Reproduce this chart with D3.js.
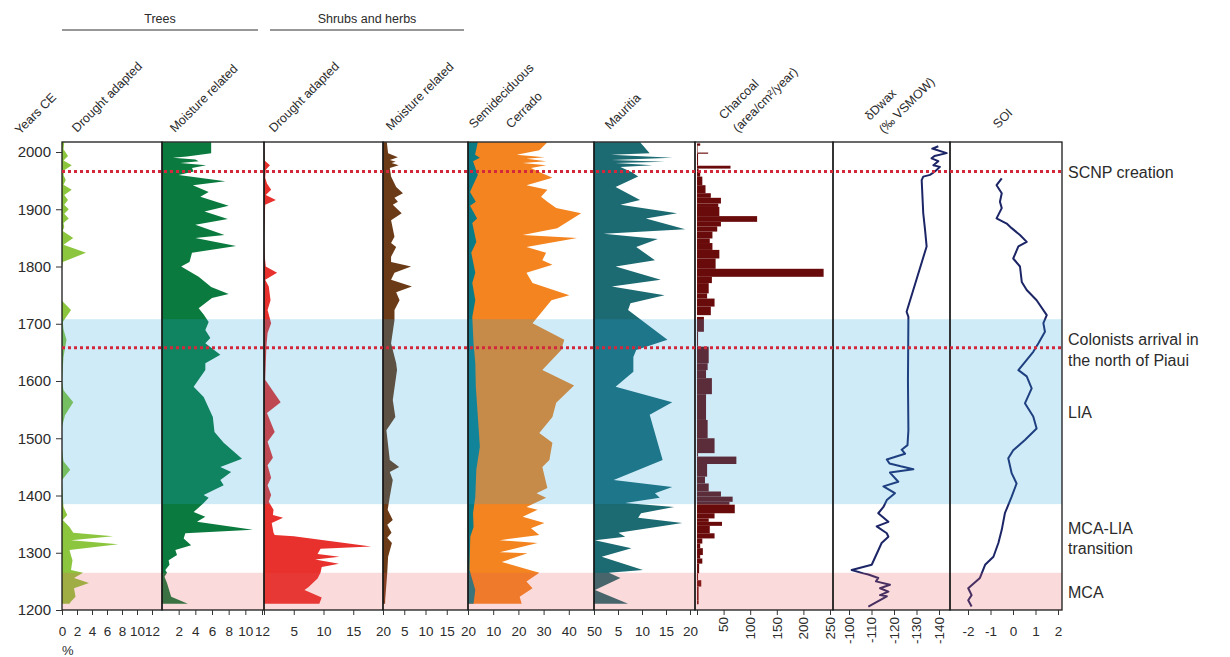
<!DOCTYPE html>
<html>
<head>
<meta charset="utf-8">
<script src="https://cdn.jsdelivr.net/npm/d3@7"></script>
<style>
  body { margin: 0; background: #fff; }
  text { font-family: "Liberation Sans", Arial, sans-serif; fill: #2b2b2b; }
</style>
</head>
<body>
<div id="chart"></div>
<script>
// ---- data, years CE ----
// trees, drought adapted (%)
const dtYears = [2017, 2005, 1993, 1985, 1977, 1968, 1960, 1951, 1943, 1934, 1925, 1916, 1908, 1900, 1892, 1884, 1876, 1869, 1862, 1850, 1838, 1824, 1808, 1795, 1740, 1724, 1703, 1690, 1672, 1642, 1600, 1584, 1563, 1540, 1520, 1480, 1460, 1445, 1427, 1400, 1380, 1366, 1357, 1345, 1335, 1329, 1322, 1315, 1305, 1295, 1287, 1270, 1265, 1256, 1247, 1238, 1223, 1215, 1211];
const dtVals = [0.3, 0.2, 0.8, 0.2, 1.3, 0.3, 0.2, 0.5, 0.2, 1.3, 0.3, 0.8, 0.3, 0.9, 0.3, 0.9, 0.2, 0.3, 0.1, 1.5, 0.2, 3.2, 0.1, 0, 0, 1.2, 0.1, 0.2, 0.6, 0.2, 0, 0.2, 1.5, 0.4, 0, 0, 0.2, 1.1, 0, 0.1, 0.2, 0.7, 0.1, 1.0, 1.5, 6.8, 1.2, 7.5, 1.0, 1.2, 1.4, 1.2, 2.8, 1.6, 3.6, 1.6, 1.8, 1.2, 1.0];

// trees, moisture related (%)
const mtYears = [2017, 1998, 1992, 1990, 1987, 1984, 1981, 1977, 1972, 1966, 1960, 1949, 1942, 1930, 1922, 1906, 1896, 1883, 1873, 1855, 1850, 1836, 1824, 1808, 1800, 1782, 1764, 1752, 1745, 1727, 1716, 1703, 1689, 1675, 1666, 1646, 1631, 1619, 1590, 1572, 1537, 1511, 1492, 1464, 1450, 1441, 1427, 1418, 1401, 1396, 1387, 1371, 1363, 1354, 1340, 1334, 1325, 1313, 1305, 1296, 1287, 1279, 1270, 1265, 1258, 1247, 1223, 1211];
const mtVals = [5.9, 5.9, 3.0, 1.3, 4.0, 4.4, 2.2, 5.3, 3.6, 3.8, 2.0, 7.6, 3.7, 5.6, 4.6, 8.0, 5.1, 7.9, 4.0, 7.5, 4.0, 8.9, 3.6, 3.3, 2.3, 4.4, 5.9, 8.0, 6.0, 4.4, 5.0, 5.6, 5.2, 5.8, 5.2, 7.0, 5.2, 5.2, 3.8, 5.0, 6.1, 6.3, 7.4, 9.6, 7.0, 8.3, 7.0, 7.4, 5.0, 5.6, 5.0, 3.8, 5.2, 4.2, 10.9, 2.8, 2.6, 3.5, 1.6, 1.8, 0.8, 0.9, 0.4, 0.6, 0.3, 0.6, 1.1, 3.1];

// shrubs and herbs, drought adapted (%)
const dsYears = [2017, 1985, 1977, 1969, 1955, 1945, 1934, 1925, 1916, 1908, 1876, 1850, 1820, 1800, 1789, 1777, 1765, 1741, 1724, 1701, 1684, 1660, 1630, 1602, 1563, 1544, 1511, 1494, 1466, 1453, 1431, 1418, 1401, 1389, 1375, 1366, 1361, 1352, 1335, 1331, 1329, 1311, 1307, 1298, 1293, 1288, 1281, 1275, 1265, 1255, 1240, 1235, 1222, 1211];
const dsVals = [0, 0.1, 1.0, 0.3, 0.2, 0.5, 1.2, 0.3, 2.0, 0.2, 0.1, 0, 0.1, 0.3, 2.2, 0.2, 0.8, 1.1, 0.6, 1.2, 0.6, 0.4, 0.3, 0.2, 2.8, 0.5, 1.8, 0.6, 1.5, 0.6, 1.2, 0.6, 1.2, 0.8, 1.6, 1.5, 3.2, 1.3, 1.6, 1.8, 5.0, 18.0, 9.5, 9.0, 12.7, 8.6, 12.6, 9.7, 9.5, 9.0, 7.5, 6.8, 9.7, 9.3];

// shrubs and herbs, moisture related (%)
const msYears = [2017, 1998, 1991, 1986, 1983, 1981, 1977, 1972, 1957, 1939, 1928, 1920, 1913, 1908, 1893, 1881, 1852, 1841, 1834, 1817, 1808, 1800, 1789, 1777, 1765, 1755, 1741, 1724, 1706, 1666, 1631, 1619, 1567, 1537, 1514, 1462, 1450, 1441, 1427, 1398, 1375, 1357, 1349, 1335, 1326, 1317, 1293, 1265, 1217, 1211];
const msVals = [0.9, 1.2, 3.5, 1.6, 3.0, 2.0, 3.7, 1.6, 1.9, 3.1, 4.7, 2.7, 3.5, 2.3, 4.4, 1.9, 2.7, 1.9, 3.1, 1.9, 1.9, 6.6, 2.7, 1.9, 6.8, 3.1, 3.9, 2.7, 2.7, 1.9, 3.1, 3.3, 2.3, 2.9, 0.8, 1.6, 3.8, 1.6, 2.3, 1.6, 1.1, 2.3, 1.0, 2.0, 1.0, 2.1, 1.2, 1.0, 0.5, 0.5];

// semideciduous (%)
const sdYears = [2017, 1995, 1990, 1984, 1960, 1942, 1930, 1913, 1906, 1884, 1876, 1843, 1824, 1789, 1771, 1741, 1712, 1666, 1631, 1590, 1532, 1485, 1445, 1398, 1369, 1345, 1328, 1270, 1235, 1211];
const sdVals = [3.9, 2.8, 4.7, 2.0, 3.9, 2.0, 0.8, 3.1, 0.8, 3.6, 1.7, 3.3, 1.3, 2.9, 1.7, 2.9, 1.7, 2.2, 2.9, 3.1, 4.0, 4.7, 3.3, 2.9, 2.0, 2.2, 0.9, 0.6, 2.9, 2.2];

// cerrado, stacked on semideciduous (cumulative %)
const ceYears = [2017, 2003, 1995, 1991, 1988, 1984, 1981, 1977, 1972, 1965, 1955, 1942, 1934, 1922, 1913, 1902, 1893, 1867, 1855, 1850, 1834, 1824, 1811, 1803, 1789, 1771, 1750, 1741, 1701, 1672, 1654, 1619, 1592, 1562, 1537, 1509, 1492, 1462, 1450, 1413, 1404, 1396, 1380, 1375, 1363, 1352, 1343, 1331, 1322, 1317, 1301, 1299, 1284, 1265, 1250, 1238, 1223, 1211];
const ceVals = [31.5, 28.3, 19.3, 30.3, 23.2, 31.0, 21.7, 31.0, 25.0, 28.3, 33.5, 23.2, 31.5, 29.0, 31.5, 35.0, 44.9, 35.4, 21.7, 43.3, 23.2, 31.0, 29.5, 33.5, 23.2, 25.6, 40.2, 33.1, 25.6, 38.2, 37.0, 29.5, 42.1, 35.0, 33.5, 28.3, 33.5, 32.3, 29.5, 31.5, 27.2, 31.0, 23.2, 27.6, 21.7, 30.3, 25.0, 28.3, 12.6, 27.6, 12.6, 23.6, 13.4, 28.3, 23.2, 25.6, 20.5, 21.3];

// Mauritia (%)
const mauYears = [2017, 1998, 1995, 1990, 1986, 1983, 1981, 1977, 1974, 1965, 1957, 1939, 1916, 1908, 1893, 1884, 1865, 1857, 1848, 1834, 1811, 1800, 1777, 1765, 1750, 1736, 1724, 1672, 1654, 1642, 1616, 1590, 1563, 1541, 1462, 1427, 1415, 1404, 1396, 1387, 1380, 1369, 1361, 1352, 1335, 1328, 1322, 1308, 1293, 1270, 1265, 1256, 1235, 1211];
const mauVals = [9.6, 11.6, 3.5, 16.3, 3.7, 14.7, 4.5, 12.2, 5.5, 7.8, 9.2, 4.5, 9.6, 5.5, 17.3, 10.8, 19.0, 2.0, 13.3, 8.8, 12.7, 4.5, 13.9, 3.7, 14.7, 7.6, 7.1, 15.3, 8.8, 8.2, 8.2, 4.5, 16.3, 11.6, 14.3, 4.1, 16.3, 12.7, 13.7, 6.5, 16.7, 9.8, 9.2, 18.4, 5.1, 6.5, 0.2, 7.8, 1.6, 10.2, 3.1, 5.5, 0.2, 7.1];

// charcoal bins: edges (years) and accumulation per bin (area/cm2/year)
const chEdges = [2015, 2011, 1999, 1997, 1976, 1971, 1966, 1957, 1942, 1928, 1920, 1910, 1904, 1888, 1878, 1870, 1861, 1849, 1841, 1829, 1814, 1796, 1782, 1771, 1753, 1744, 1730, 1715, 1712, 1686, 1660, 1631, 1619, 1605, 1577, 1532, 1500, 1474, 1468, 1455, 1433, 1421, 1407, 1398, 1389, 1384, 1369, 1360, 1354, 1347, 1334, 1325, 1316, 1308, 1296, 1290, 1281, 1264, 1252, 1241, 1217, 1210];
const chVals = [6, 1, 21, 2, 63, 3, 6, 10, 16, 26, 45, 40, 42, 113, 45, 38, 29, 24, 29, 42, 35, 238, 28, 22, 19, 33, 26, 0, 13, 2, 22, 20, 17, 28, 17, 20, 33, 2, 74, 19, 15, 22, 45, 67, 61, 71, 33, 22, 47, 24, 33, 10, 6, 11, 6, 10, 4, 2, 8, 3, 3];

// dD wax (permil VSMOW)
const ddYears = [2010, 2006, 1998, 1993, 1989, 1984, 1977, 1974, 1966, 1960, 1957, 1951, 1893, 1864, 1835, 1721, 1712, 1600, 1514, 1488, 1480, 1473, 1463, 1456, 1451, 1446, 1440, 1424, 1416, 1404, 1392, 1380, 1369, 1354, 1346, 1334, 1328, 1317, 1279, 1270, 1264, 1262, 1256, 1250, 1244, 1238, 1232, 1226, 1224, 1206];
const ddVals = [-139.7, -137, -143.4, -138, -136.7, -139.7, -137.5, -140.4, -138.2, -136, -133, -132.3, -133, -133.8, -134.5, -125.6, -126.4, -126.2, -126.4, -126, -123.4, -124.9, -116.8, -118, -123, -128.6, -118.2, -121.9, -115.3, -120.4, -116.8, -115.3, -113, -117.5, -112.3, -116.8, -117.5, -114.5, -110.1, -101.2, -106.4, -108.6, -113, -112, -118.2, -113.8, -117.5, -113.8, -116.8, -108.6];

// SOI
const soiYears = [1954, 1942, 1928, 1913, 1902, 1884, 1875, 1867, 1855, 1843, 1835, 1814, 1800, 1773, 1759, 1741, 1715, 1701, 1686, 1666, 1651, 1619, 1608, 1587, 1561, 1538, 1517, 1497, 1479, 1465, 1439, 1421, 1398, 1369, 1340, 1317, 1293, 1279, 1256, 1238, 1226, 1217, 1206];
const soiVals = [-0.5, -0.73, -0.5, -0.58, -0.5, -0.73, -0.28, -0.06, 0.31, 0.61, 0.24, 0.01, 0.31, 0.39, 0.61, 1.05, 1.5, 1.35, 1.42, 1.13, 0.9, 0.24, 0.61, 0.83, 0.53, 0.9, 1.05, 0.53, 0.01, -0.21, -0.06, 0.16, -0.06, -0.36, -0.5, -0.65, -0.87, -1.24, -1.47, -1.99, -1.84, -1.99, -1.84];

// periods and events
const yearTicks = [1200, 1300, 1400, 1500, 1600, 1700, 1800, 1900, 2000];
const liaYears = [1385, 1708];
const mcaYears = [1200, 1265];
const eventYears = [1966, 1658];

// ---- chart ----
const svg = d3.select("#chart").append("svg")
    .attr("width", 1230)
    .attr("height", 657)

const plotTop = 142, plotBottom = 610, plotLeft = 62, plotRight = 1062;
const y = d3.scaleLinear().domain([1200, 2000]).range([610, 152]);

const xDT = d3.scaleLinear().domain([0, 12]).range([62, 152]);
const xMT = d3.scaleLinear().domain([0, 12]).range([162, 262]);
const xDS = d3.scaleLinear().domain([0, 20]).range([264, 383]);
const xMS = d3.scaleLinear().domain([0, 20]).range([383, 468]);
const xSC = d3.scaleLinear().domain([0, 50]).range([468, 594]);
const xMau = d3.scaleLinear().domain([0, 20]).range([594, 690]);
const xCh = d3.scaleLinear().domain([0, 250]).range([697, 830]);
const xDD = d3.scaleLinear().domain([-100, -140]).range([849, 939]);
const xSOI = d3.scaleLinear().domain([-2, 2]).range([968, 1058]);
const panelEdges = [62, 162, 264, 383, 468, 594, 695, 833, 950, 1062];

svg.append("defs").append("clipPath").attr("id", "plotClip")
    .append("rect")
    .attr("x", plotLeft).attr("y", plotTop)
    .attr("width", plotRight - plotLeft).attr("height", plotBottom - plotTop)

const plot = svg.append("g").attr("clip-path", "url(#plotClip)")

function fillSeries(xs, years, vals, color) {
    const pts = d3.zip(years, vals)
    plot.append("path").datum(pts)
        .attr("fill", color)
        .attr("d", d3.area().y(d => y(d[0])).x0(xs(0)).x1(d => xs(d[1])))
}

fillSeries(xDT, dtYears, dtVals, "#8cc63f")
fillSeries(xMT, mtYears, mtVals, "#0a7a3e")
fillSeries(xDS, dsYears, dsVals, "#e8302c")
fillSeries(xMS, msYears, msVals, "#6b3a17")
fillSeries(xSC, ceYears, ceVals, "#f3841f")
fillSeries(xSC, sdYears, sdVals, "#0b7b86")
fillSeries(xMau, mauYears, mauVals, "#1c6a72")

const chBins = chVals.map((v, i) => ({ top: chEdges[i], bot: chEdges[i + 1], v: v }))
plot.selectAll(".charcoal")
    .data(chBins)
    .enter()
    .append("rect")
    .attr("class", "charcoal")
    .attr("x", xCh(0))
    .attr("y", d => y(d.top))
    .attr("width", d => xCh(d.v) - xCh(0))
    .attr("height", d => y(d.bot) - y(d.top))
    .attr("fill", "#6a0b0b")

function lineSeries(xs, years, vals) {
    plot.append("path").datum(d3.zip(years, vals))
        .attr("fill", "none")
        .attr("stroke", "#1c2566")
        .attr("stroke-width", 2)
        .attr("stroke-linejoin", "round")
        .attr("d", d3.line().x(d => xs(d[1])).y(d => y(d[0])))
}
lineSeries(xDD, ddYears, ddVals)
lineSeries(xSOI, soiYears, soiVals)

// period bands lie over the curves
svg.append("rect")
    .attr("x", plotLeft).attr("width", plotRight - plotLeft)
    .attr("y", y(liaYears[1])).attr("height", y(liaYears[0]) - y(liaYears[1]))
    .attr("fill", "rgb(41,164,223)").attr("fill-opacity", 0.22)
svg.append("rect")
    .attr("x", plotLeft).attr("width", plotRight - plotLeft)
    .attr("y", y(mcaYears[1])).attr("height", y(mcaYears[0]) - y(mcaYears[1]))
    .attr("fill", "rgb(232,87,87)").attr("fill-opacity", 0.22)

// panel frames
for (let i = 0; i < panelEdges.length - 1; i++) {
    svg.append("rect")
        .attr("x", panelEdges[i]).attr("y", plotTop)
        .attr("width", panelEdges[i + 1] - panelEdges[i]).attr("height", plotBottom - plotTop)
        .attr("fill", "none")
        .attr("stroke", "#1a1a1a")
        .attr("stroke-width", 1.3)
}

// events
svg.selectAll(".event")
    .data(eventYears)
    .enter()
    .append("line")
    .attr("x1", plotLeft).attr("x2", plotRight)
    .attr("y1", d => y(d)).attr("y2", d => y(d))
    .attr("stroke", "#d3283c")
    .attr("stroke-width", 3)
    .attr("stroke-dasharray", "3,3")

// y axis
const yAxis = svg.append("g")
    .attr("transform", "translate(" + plotLeft + ",0)")
    .call(d3.axisLeft(y).tickValues(yearTicks).tickSize(6).tickPadding(5).tickFormat(d3.format("d")))
yAxis.select(".domain").remove()
yAxis.selectAll("text").attr("font-size", 15).style("font-family", "Liberation Sans, Arial, sans-serif").attr("fill", "#2b2b2b")
yAxis.selectAll("line").attr("stroke", "#333")

// bottom axes
function bottomAxis(xs, ticks, hideZero) {
    const g = svg.append("g")
        .attr("transform", "translate(0," + plotBottom + ")")
        .call(d3.axisBottom(xs).tickValues(ticks).tickSize(5)
            .tickFormat(d => (hideZero && d === 0) ? "" : String(d)))
    g.select(".domain").remove()
    g.selectAll("line").attr("stroke", "#333")
    g.selectAll("text")
        .attr("y", 16)
        .attr("font-size", 13.5)
        .style("font-family", "Liberation Sans, Arial, sans-serif")
        .attr("fill", "#2b2b2b")
    return g
}
bottomAxis(xDT, [0, 2, 4, 6, 8, 10, 12], false)
bottomAxis(xMT, [2, 4, 6, 8, 10, 12], false)
bottomAxis(xDS, [0, 5, 10, 15, 20], true)
bottomAxis(xMS, [0, 5, 10, 15, 20], true)
bottomAxis(xSC, [0, 10, 20, 30, 40, 50], true)
bottomAxis(xMau, [0, 5, 10, 15, 20], true)
bottomAxis(xSOI, [-2, -1, 0, 1, 2], false)

function rotatedAxis(xs, ticks) {
    const g = svg.append("g")
        .attr("transform", "translate(0," + plotBottom + ")")
        .call(d3.axisBottom(xs).tickValues(ticks).tickSize(5).tickFormat(""))
    g.select(".domain").remove()
    g.selectAll("line").attr("stroke", "#333")
    svg.append("g").selectAll("text")
        .data(ticks.filter(d => d !== 0))
        .enter()
        .append("text")
        .attr("transform", d => "translate(" + xs(d) + ",617) rotate(-90)")
        .attr("text-anchor", "end")
        .attr("dy", "0.35em")
        .attr("font-size", 13.5)
        .text(d => String(d))
}
rotatedAxis(xCh, [0, 50, 100, 150, 200, 250])
rotatedAxis(xDD, [-100, -110, -120, -130, -140])

svg.append("text").attr("x", 62).attr("y", 655).attr("font-size", 13).text("%")

// group headers
const groups = [
    { name: "Trees", x0: 62, x1: 258 },
    { name: "Shrubs and herbs", x0: 270, x1: 464 }
]
groups.forEach(gr => {
    svg.append("line")
        .attr("x1", gr.x0).attr("x2", gr.x1).attr("y1", 30).attr("y2", 30)
        .attr("stroke", "#333").attr("stroke-width", 1.2)
    svg.append("text")
        .attr("x", (gr.x0 + gr.x1) / 2).attr("y", 23)
        .attr("text-anchor", "middle").attr("font-size", 12.5)
        .text(gr.name)
})

// slanted column titles
const titles = [
    ["Years CE", 20, 135], ["Drought adapted", 77, 133], ["Moisture related", 175, 133],
    ["Drought adapted", 274, 133], ["Moisture related", 391, 131], ["Semideciduous", 474, 129],
    ["Cerrado", 511, 129], ["Mauritia", 610, 130], ["Charcoal", 724, 120],
    ["(area/cm\u00b2/year)", 738, 133], ["\u03b4Dwax", 870, 121], ["(\u2030 VSMOW)", 884, 134],
    ["SOI", 998, 129]
]
svg.selectAll(".title")
    .data(titles)
    .enter()
    .append("text")
    .attr("class", "title")
    .attr("transform", d => "translate(" + d[1] + "," + d[2] + ") rotate(-45)")
    .attr("font-size", 12.5)
    .text(d => d[0])

// period notes at right
const notes = [
    ["SCNP creation", 178], ["Colonists arrival in", 345], ["the north of Piaui", 366],
    ["LIA", 418], ["MCA-LIA", 534], ["transition", 554], ["MCA", 598]
]
svg.selectAll(".note")
    .data(notes)
    .enter()
    .append("text")
    .attr("class", "note")
    .attr("x", 1068)
    .attr("y", d => d[1])
    .attr("font-size", 16)
    .text(d => d[0])
</script>
</body>
</html>
